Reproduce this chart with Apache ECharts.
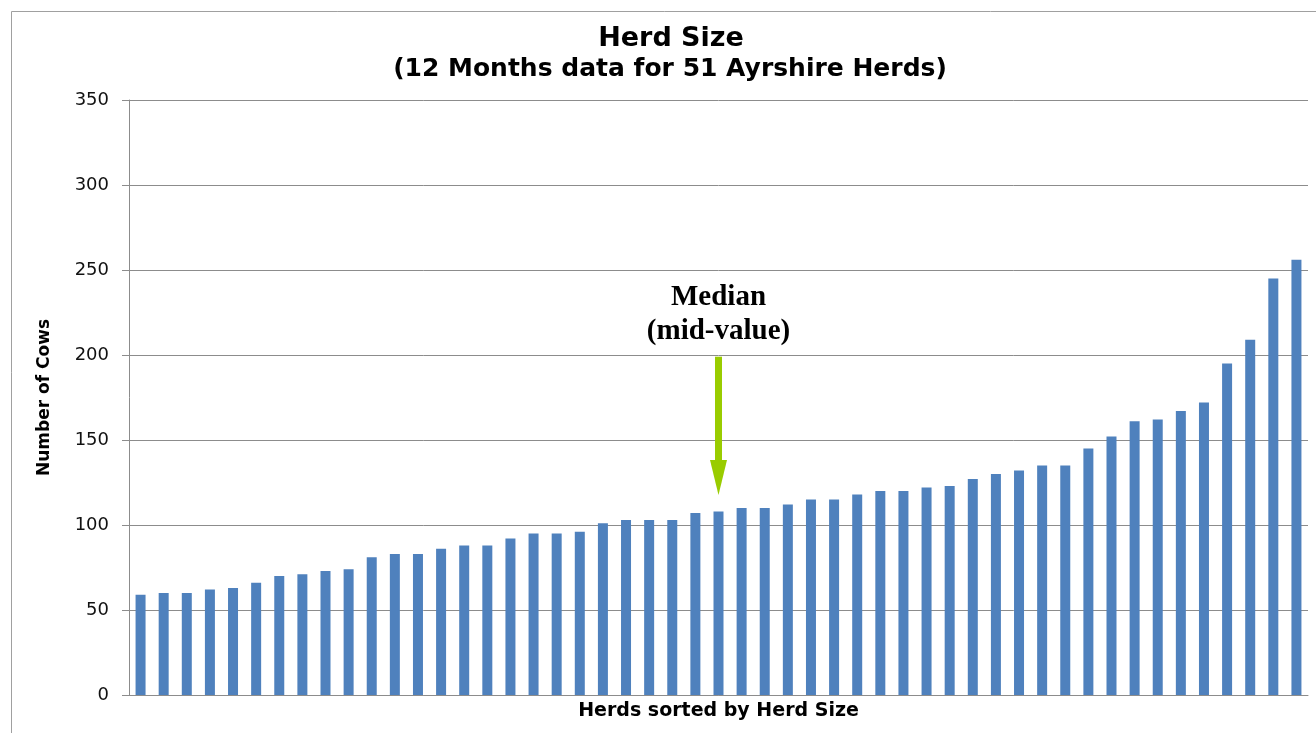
<!DOCTYPE html>
<html>
<head>
<meta charset="utf-8">
<title>Herd Size</title>
<script src="https://cdn.jsdelivr.net/npm/echarts@6/dist/echarts.min.js"></script>
<style>
  html, body { margin: 0; padding: 0; background: #fff; }
  #chart { width: 1316px; height: 733px; }
</style>
</head>
<body>
<div id="chart"></div>
<script>
// herd sizes, sorted ascending (51 herds)
const herds = [];
for (let i = 1; i <= 51; i++) herds.push('Herd ' + i);
const cows = [
  59, 60, 60, 62, 63, 66, 70, 71, 73, 74, 81, 83, 83, 86, 88, 88,
  92, 95, 95, 96, 101, 103, 103, 103, 107, 108, 110, 110, 112, 115, 115, 118, 120,
  120, 122, 123, 127, 130, 132, 135, 135, 145, 152, 161, 162, 167, 172, 195, 209, 245, 256
];
const yTicks = [0, 50, 100, 150, 200, 250, 300, 350];

// median arrow (26th of 51 herds)
const medianIndex = 25;
const medianArrow = [199, 128];

const sans = 'DejaVu Sans';
const chart = echarts.init(document.getElementById('chart'));

const option = {
  animation: false,
  backgroundColor: '#fff',
  title: [
    {
      text: 'Herd Size',
      left: 671, top: 25, textAlign: 'center', padding: 0,
      textStyle: { fontFamily: sans, fontWeight: 'bold', fontSize: 27, color: '#000' }
    },
    {
      text: '(12 Months data for 51 Ayrshire Herds)',
      left: 670, top: 57, textAlign: 'center', padding: 0,
      textStyle: { fontFamily: sans, fontWeight: 'bold', fontSize: 25, color: '#000' }
    }
  ],
  graphic: [{
    type: 'rect',
    z: -10,
    shape: { x: 11.5, y: 11.5, width: 1400, height: 800 },
    style: { fill: 'none', stroke: '#a0a0a0', lineWidth: 1 }
  }],
  grid: { left: 129, right: 8, top: 100, bottom: 38 },
  xAxis: {
    type: 'category',
    data: herds,
    name: 'Herds sorted by Herd Size',
    nameLocation: 'middle',
    nameGap: 7,
    nameTextStyle: { fontFamily: sans, fontWeight: 'bold', fontSize: 19, color: '#000', verticalAlign: 'top' },
    axisLine: { lineStyle: { color: '#8c8c8c', width: 1 } },
    axisTick: { show: false },
    axisLabel: { show: false }
  },
  yAxis: {
    type: 'value',
    min: yTicks[0],
    max: yTicks[yTicks.length - 1],
    interval: 50,
    name: 'Number of Cows',
    nameLocation: 'middle',
    nameGap: 76,
    nameTextStyle: { fontFamily: sans, fontWeight: 'bold', fontSize: 17, color: '#000' },
    axisLine: { show: true, lineStyle: { color: '#8c8c8c', width: 1 } },
    axisTick: { show: true, length: 7, lineStyle: { color: '#8c8c8c' } },
    axisLabel: { fontFamily: sans, fontSize: 18, color: '#111', margin: 20 },
    splitLine: { lineStyle: { color: '#8c8c8c', width: 1 } }
  },
  series: [{
    type: 'bar',
    data: cows,
    barWidth: 10,
    itemStyle: { color: '#4f81bd' },
    markLine: {
      silent: true,
      symbol: ['none', 'triangle'],
      symbolSize: [17, 35],
      lineStyle: { color: '#99cc00', width: 7, type: 'solid' },
      label: {
        show: true,
        position: 'start',
        distance: 8,
        formatter: 'Median\n(mid-value)',
        fontFamily: 'Liberation Serif',
        fontWeight: 'bold',
        fontSize: 29,
        lineHeight: 34,
        color: '#000'
      },
      data: [[
        { coord: [medianIndex, medianArrow[0]] },
        { coord: [medianIndex, medianArrow[1]] }
      ]]
    }
  }]
};

chart.setOption(option);
</script>
</body>
</html>
